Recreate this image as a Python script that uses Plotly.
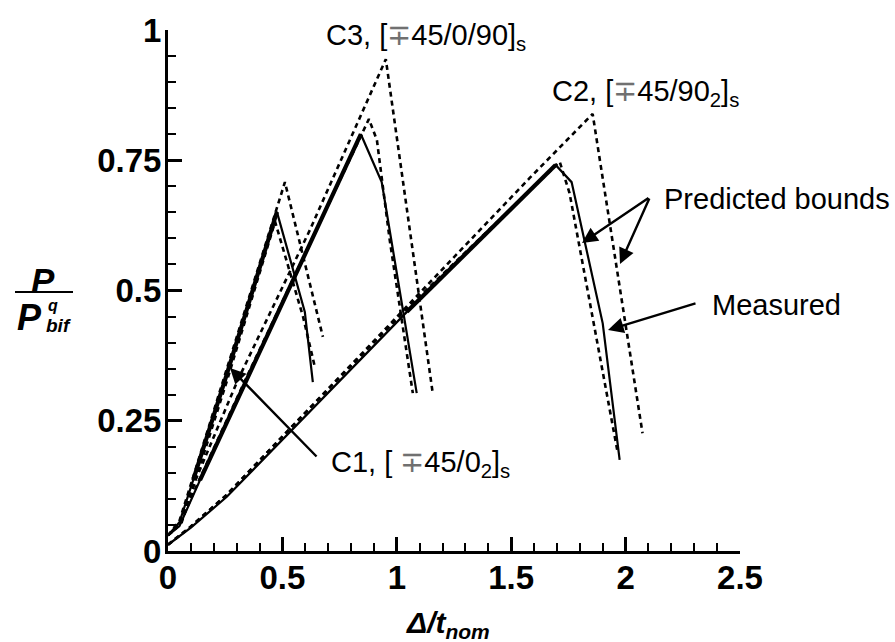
import plotly.graph_objects as go

# ---------------- data ----------------
# C1, [∓45/0_2]_s
c1_meas_x = [0.0, 0.05, 0.11, 0.249, 0.476, 0.598, 0.633]
c1_meas_y = [0.030, 0.055, 0.136, 0.328, 0.651, 0.459, 0.324]
c1_low_x = [0.0, 0.06, 0.12, 0.26, 0.468, 0.59, 0.642]
c1_low_y = [0.030, 0.055, 0.136, 0.330, 0.632, 0.450, 0.353]
c1_up_x = [0.0, 0.05, 0.11, 0.25, 0.511, 0.677]
c1_up_y = [0.030, 0.058, 0.142, 0.340, 0.708, 0.411]

# C3, [∓45/0/90]_s
c3_meas_x = [0.0, 0.05, 0.14, 0.345, 0.445, 0.843, 0.934, 1.087]
c3_meas_y = [0.030, 0.048, 0.136, 0.328, 0.424, 0.800, 0.708, 0.303]
c3_low_x = [0.0, 0.05, 0.14, 0.345, 0.878, 0.913, 0.969, 1.070]
c3_low_y = [0.030, 0.050, 0.140, 0.335, 0.829, 0.789, 0.597, 0.303]
c3_up_x = [0.0, 0.05, 0.12, 0.305, 0.62, 0.952, 1.157]
c3_up_y = [0.030, 0.050, 0.136, 0.328, 0.616, 0.944, 0.303]

# C2, [∓45/90_2]_s
c2_meas_x = [0.0, 0.1, 0.257, 0.54, 1.044, 1.694, 1.764, 1.90, 1.974]
c2_meas_y = [0.012, 0.045, 0.104, 0.232, 0.459, 0.741, 0.708, 0.437, 0.175]
c2_low_x = [0.0, 0.1, 0.257, 0.54, 1.044, 1.712, 1.755, 1.965]
c2_low_y = [0.012, 0.047, 0.108, 0.238, 0.465, 0.747, 0.687, 0.190]
c2_up_x = [0.0, 0.1, 0.257, 0.54, 1.044, 1.581, 1.856, 2.074]
c2_up_y = [0.012, 0.047, 0.108, 0.238, 0.468, 0.716, 0.839, 0.226]

# index ranges of the noisy (thick) part of the measured loading branches
c1_noisy = (2, 5)
c3_noisy = (2, 6)
c2_noisy = (4, 6)

x_ticks = [0, 0.5, 1, 1.5, 2, 2.5]
x_tick_text = ["0", "0.5", "1", "1.5", "2", "2.5"]
y_ticks = [0, 0.25, 0.5, 0.75, 1]
y_tick_text = ["0", "0.25", "0.5", "0.75", "1"]

# ---------------- figure ----------------
FONT = "Liberation Sans, Arial, Helvetica, sans-serif"
fig = go.Figure()

dash_style = "5px,4px"


def add_line(x, y, dashed=False, width=2.0):
    fig.add_trace(go.Scatter(
        x=x, y=y, mode="lines",
        line=dict(color="black", width=width, dash=dash_style if dashed else "solid"),
        showlegend=False, hoverinfo="skip", cliponaxis=False))


for (ux, uy), (lx, ly) in [((c1_up_x, c1_up_y), (c1_low_x, c1_low_y)),
                           ((c3_up_x, c3_up_y), (c3_low_x, c3_low_y)),
                           ((c2_up_x, c2_up_y), (c2_low_x, c2_low_y))]:
    add_line(ux, uy, dashed=True, width=2.6)
    add_line(lx, ly, dashed=True, width=2.6)

for mx, my, (a, b) in [(c1_meas_x, c1_meas_y, c1_noisy),
                       (c3_meas_x, c3_meas_y, c3_noisy),
                       (c2_meas_x, c2_meas_y, c2_noisy)]:
    add_line(mx, my, width=2.2)
    add_line(mx[a:b], my[a:b], width=4.2)

# ---------------- annotations (window pixel -> paper / data) ----------------
# plot area in the window: x 168..740, y 30..551
PL, PR, PT, PB = 168.0, 740.0, 30.0, 551.0


def px2paper(px):
    return (px - PL) / (PR - PL)


def py2paper(py):
    return (PB - py) / (PB - PT)


def px2x(px):
    return (px - PL) / (PR - PL) * 2.5


def py2y(py):
    return (PB - py) / (PB - PT)


ann_font = dict(family=FONT, size=29, color="black")
mp = "<span style='color:#707070'>∓</span>"

labels = [
    ("C3, [" + mp + "45/0/90]<sub>s</sub>", 426, 37),
    ("C2, [" + mp + "45/90<sub>2</sub>]<sub>s</sub>", 645, 93),
    ("Predicted bounds", 777, 199),
    ("Measured", 777, 305),
    ("C1, [ " + mp + "45/0<sub>2</sub>]<sub>s</sub>", 420, 464),
]
for txt, px, py in labels:
    fig.add_annotation(x=px2paper(px), y=py2paper(py), xref="paper", yref="paper", text=txt,
                       showarrow=False, font=ann_font, xanchor="center", yanchor="middle")

arrows = [
    ((650, 197), (582, 243)),
    ((650, 197), (620, 264)),
    ((697, 303), (608, 330)),
    ((318, 458), (230, 368)),
]
for (ox, oy), (tx, ty) in arrows:
    fig.add_annotation(x=px2x(tx), y=py2y(ty), ax=px2x(ox), ay=py2y(oy), xref="x", yref="y",
                       axref="x", ayref="y", text="", showarrow=True, arrowhead=2,
                       arrowsize=1.3, arrowwidth=2.4, arrowcolor="black")

# axis titles
fig.add_annotation(x=px2paper(448), y=py2paper(624), xref="paper", yref="paper",
                   text="<b><i>Δ/t<sub>nom</sub></i></b>", showarrow=False,
                   font=dict(family=FONT, size=30, color="black"),
                   xanchor="center", yanchor="middle")
fig.add_annotation(x=px2paper(43), y=py2paper(280), xref="paper", yref="paper",
                   text="<b><i>P</i></b>", showarrow=False,
                   font=dict(family=FONT, size=35, color="black"),
                   xanchor="center", yanchor="middle")
fig.add_annotation(x=px2paper(29), y=py2paper(317), xref="paper", yref="paper",
                   text="<b><i>P</i></b>", showarrow=False,
                   font=dict(family=FONT, size=36, color="black"),
                   xanchor="center", yanchor="middle")
fig.add_annotation(x=px2paper(53), y=py2paper(305), xref="paper", yref="paper",
                   text="<b><i>q</i></b>", showarrow=False,
                   font=dict(family=FONT, size=16, color="black"),
                   xanchor="center", yanchor="middle")
fig.add_annotation(x=px2paper(58), y=py2paper(325), xref="paper", yref="paper",
                   text="<b><i>bif</i></b>", showarrow=False,
                   font=dict(family=FONT, size=19, color="black"),
                   xanchor="center", yanchor="middle")
fig.add_shape(type="line", xref="paper", yref="paper",
              x0=px2paper(15), x1=px2paper(73), y0=py2paper(292), y1=py2paper(292),
              line=dict(color="black", width=2))

axis_common = dict(
    showgrid=False, zeroline=False, showline=True, linecolor="black", linewidth=3,
    ticks="inside", ticklen=14, tickwidth=2.5, tickcolor="black", mirror=False,
    tickfont=dict(family=FONT, size=33, color="black"),
)

fig.update_xaxes(range=[0, 2.5], tickvals=x_ticks,
                 ticktext=["<b>%s</b>" % t for t in x_tick_text],
                 minor=dict(ticks="inside", ticklen=8, tickwidth=2, dtick=0.1, tick0=0,
                            tickcolor="black", showgrid=False),
                 ticklabelstandoff=-5, **axis_common)
fig.update_yaxes(range=[0, 1], tickvals=y_ticks,
                 ticktext=["<b>%s</b>" % t for t in y_tick_text],
                 minor=dict(ticks="inside", ticklen=8, tickwidth=2, dtick=0.05, tick0=0,
                            tickcolor="black", showgrid=False),
                 ticklabelstandoff=-3, **axis_common)

fig.update_layout(
    width=895, height=642,
    margin=dict(l=168, r=155, t=30, b=91, autoexpand=False),
    paper_bgcolor="white", plot_bgcolor="white",
    font=dict(family=FONT, color="black"),
    showlegend=False,
)

# remove the browser's default 8px body margin so the 895x642 figure fills the window
fig.write_html("out.html",
               config={"displayModeBar": False},
               post_script="document.body.style.margin='0';"
                           "document.documentElement.style.overflow='hidden';")
